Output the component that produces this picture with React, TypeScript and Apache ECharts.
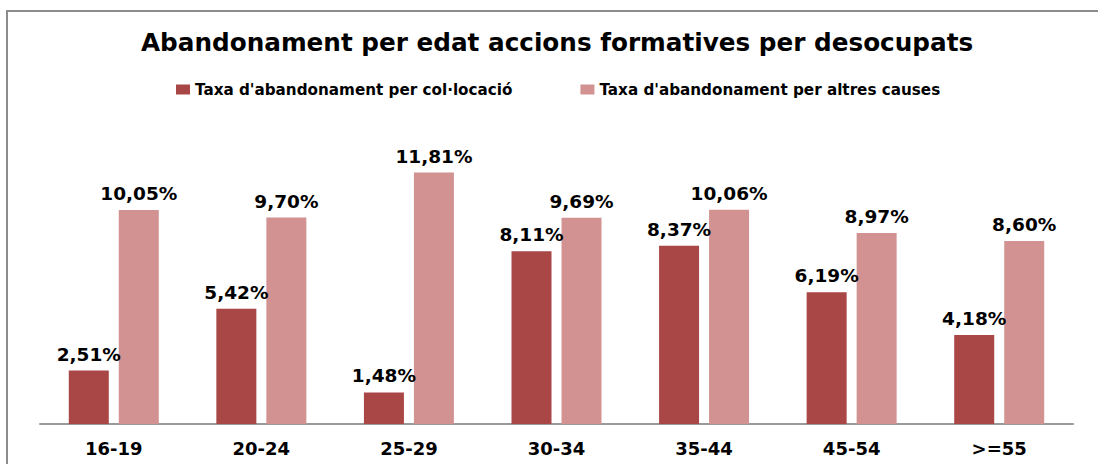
import React, { useEffect, useRef } from "react";
import * as echarts from "echarts";

const categories = ["16-19", "20-24", "25-29", "30-34", "35-44", "45-54", ">=55"];
const seriesNames = ["Taxa d'abandonament per col·locació", "Taxa d'abandonament per altres causes"];
const colocacio = [2.51, 5.42, 1.48, 8.11, 8.37, 6.19, 4.18];
const altresCauses = [10.05, 9.7, 11.81, 9.69, 10.06, 8.97, 8.6];
const titleText = "Abandonament per edat accions formatives per desocupats";

const FONT = "DejaVu Sans";
const fmt = (v: number) => v.toFixed(2).replace(".", ",") + "%";

export default function App() {
  const ref = useRef<HTMLDivElement>(null);
  useEffect(() => {
    if (!ref.current) return;
    const chart = echarts.init(ref.current, null, { renderer: "svg" });
    const label = {
      show: true,
      position: "top",
      distance: 7,
      fontFamily: FONT,
      fontWeight: "bold",
      fontSize: 18.5,
      color: "#000",
      formatter: (p: any) => fmt(p.value),
    };
    chart.setOption({
      animation: false,
      backgroundColor: "#fff",
      graphic: [
        {
          type: "rect",
          shape: { x: 7, y: 11, width: 1200, height: 600 },
          style: { fill: "none", stroke: "#8c8c8c", lineWidth: 2 },
          silent: true,
        },
      ],
      title: {
        text: titleText,
        left: 136,
        top: 25,
        textStyle: { fontFamily: FONT, fontWeight: "bold", fontSize: 24.7, color: "#000" },
      },
      legend: {
        top: 77,
        left: 171,
        itemWidth: 14,
        itemHeight: 10,
        itemGap: 68,
        icon: "rect",
        textStyle: { fontFamily: FONT, fontWeight: "bold", fontSize: 15.2, color: "#000", padding: [0, 0, 0, 0] },
        data: seriesNames,
      },
      grid: { left: 40, right: 25, top: 126, bottom: 40, containLabel: false },
      xAxis: {
        type: "category",
        data: categories,
        axisLine: { show: true, lineStyle: { color: "#999", width: 2 } },
        axisTick: { show: false },
        axisLabel: { fontFamily: FONT, fontWeight: "bold", fontSize: 18, color: "#000", margin: 15 },
      },
      yAxis: {
        type: "value",
        min: 0,
        max: 14,
        show: false,
        splitLine: { show: false },
      },
      series: [
        {
          name: seriesNames[0],
          type: "bar",
          data: colocacio,
          barWidth: 40,
          barGap: "25%",
          itemStyle: { color: "#A94646" },
          label,
        },
        {
          name: seriesNames[1],
          type: "bar",
          data: altresCauses,
          barWidth: 40,
          barGap: "25%",
          itemStyle: { color: "#D39292" },
          label,
        },
      ],
    });
    return () => chart.dispose();
  }, []);
  return (
    <div
      ref={ref}
      style={{ position: "absolute", left: 0, top: 0, width: 1098, height: 464 }}
    />
  );
}
